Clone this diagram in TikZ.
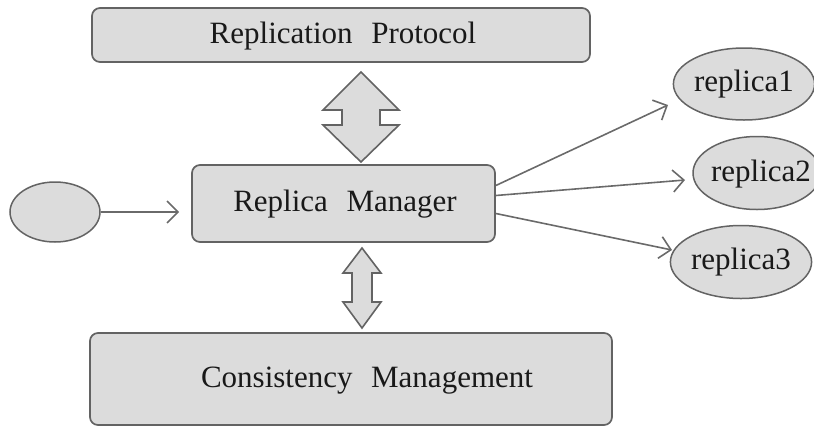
\documentclass[tikz,border=0pt]{standalone}
\usepackage{fontspec}
\setmainfont{Liberation Serif}
\usetikzlibrary{shapes.geometric,arrows.meta,calc}
\definecolor{boxfill}{HTML}{DCDCDC}
\definecolor{boxline}{HTML}{636363}
\definecolor{linkline}{HTML}{6A6A6A}
\newcommand{\wsp}{\hspace{0.6em}}
\tikzset{
  box/.style={draw=boxline, fill=boxfill, line width=1.7pt, rounded corners=8pt, inner sep=0pt},
  oval/.style={ellipse, draw=boxline, fill=boxfill, line width=1.5pt, inner sep=0pt},
  label/.style={font=\fontsize{31}{36}\selectfont, text=black!90},
  link/.style={draw=linkline, line width=1.6pt, -{Straight Barb[length=11pt,width=22pt,line width=1.6pt]}},
  fatarrow/.style={draw=boxline, fill=boxfill, line width=1.6pt, line join=miter}
}
\begin{document}
\begin{tikzpicture}[x=1pt, y=-1pt]
\useasboundingbox (0,0) rectangle (814,432);

% main boxes
\node[box, minimum width=498pt, minimum height=54pt] (rp) at (341,35) {};
\node[label] (rptext) at (343,36) {Replication\wsp Protocol};
\node[box, minimum width=303pt, minimum height=77pt] (rm) at (343.5,203.5) {};
\node[label] (rmtext) at (345,204) {Replica\wsp Manager};
\node[box, minimum width=522pt, minimum height=92pt] (cm) at (351,379) {};
\node[label] (cmtext) at (367,381) {Consistency\wsp Management};

% source and replicas
\node[oval, minimum width=90pt, minimum height=60pt] (src) at (55,212) {};
\node[oval, minimum width=124pt, minimum height=72pt, label] (r1) at (744,84) {replica1};
\node[oval, minimum width=128pt, minimum height=73pt] (r2) at (757,173) {};
\node[label] (r2text) at (761,174) {replica2};
\node[oval, minimum width=132pt, minimum height=73pt, label] (r3) at (741,262) {replica3};

% links (yshift is in page direction, so positive is upward)
\draw[link, shorten >=12pt] (src.east) -- (src.east -| rm.west);
\coordinate (o1) at ([yshift=18pt]rm.east);
\coordinate (o2) at ([yshift=8pt]rm.east);
\coordinate (o3) at ([yshift=-10pt]rm.east);
\draw[link] (o1) -- (668,105) coordinate (t1);
\draw[link] (o2) -- (685,180) coordinate (t2);
\draw[link] (o3) -- (672,250) coordinate (t3);

% wide two-way arrow between protocol and manager
\coordinate (ua) at (361,117);
\draw[fatarrow] (ua) ++(0,-45) -- ++(-38,38) -- ++(19,0) -- ++(0,15) -- ++(-19,0)
  -- ++(38,37) -- ++(38,-37) -- ++(-19,0) -- ++(0,-15) -- ++(19,0) -- cycle;

% narrow two-way arrow between manager and consistency
\coordinate (la) at (362,288);
\draw[fatarrow] (la) ++(0,-40) -- ++(-19,25) -- ++(9,0) -- ++(0,29) -- ++(-9,0)
  -- ++(19,26) -- ++(19,-26) -- ++(-9,0) -- ++(0,-29) -- ++(9,0) -- cycle;
\end{tikzpicture}
\end{document}
